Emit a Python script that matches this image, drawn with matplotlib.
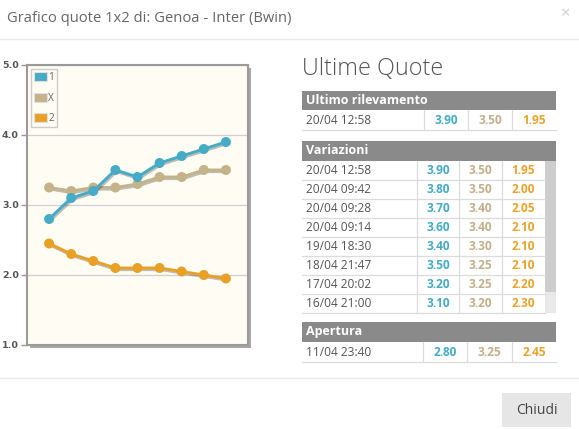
import matplotlib
matplotlib.use("Agg")
import matplotlib.pyplot as plt
import matplotlib.patheffects as pe
from matplotlib.patches import Rectangle, Patch

plt.rcParams['font.family'] = ['Open Sans', 'DejaVu Sans']

# Odds history for Genoa - Inter (Bwin), oldest first
times = ["11/04 23:40", "16/04 21:00", "17/04 20:02", "18/04 21:47", "19/04 18:30",
         "20/04 09:14", "20/04 09:28", "20/04 09:42", "20/04 12:58"]
q1 = [2.80, 3.10, 3.20, 3.50, 3.40, 3.60, 3.70, 3.80, 3.90]
qx = [3.25, 3.20, 3.25, 3.25, 3.30, 3.40, 3.40, 3.50, 3.50]
q2 = [2.45, 2.30, 2.20, 2.10, 2.10, 2.10, 2.05, 2.00, 1.95]
series_labels = ["1", "X", "2"]
y_ticks = [1.0, 2.0, 3.0, 4.0, 5.0]

title = "Grafico quote 1x2 di: Genoa - Inter (Bwin)"
panel_title = "Ultime Quote"
sec_last, sec_changes, sec_open = "Ultimo rilevamento", "Variazioni", "Apertura"
button_label = "Chiudi"

C1, CX, C2 = "#45abc6", "#c4b389", "#e8a126"
T1, TX, T2 = "#45abc6", "#c2b08a", "#e9a32c"

W, H = 579, 429
fig = plt.figure(figsize=(W / 100, H / 100), dpi=100)
fig.patch.set_facecolor("white")

# overlay axes in pixel units for the dialog chrome and the table
ov = fig.add_axes([0, 0, 1, 1])
ov.set_xlim(0, W)
ov.set_ylim(H, 0)
ov.axis("off")

ov.text(7, 18, title, fontsize=10.6, color="#666666", va="center", ha="left")
ov.text(566, 14, "\u00d7", fontsize=12, color="#d0d0d0", va="center", ha="center")
ov.plot([0, W], [39, 39], color="#e8e8e8", lw=1)
ov.plot([0, W], [378, 378], color="#e8e8e8", lw=1)

ov.add_patch(Rectangle((502, 393), 69, 34, facecolor="#e6e6e6", edgecolor="none"))
ov.text(536.5, 410, button_label, fontsize=10, color="#444444", va="center", ha="center")

ov.text(302, 69, panel_title, fontsize=16.8, color="#555555", va="center", ha="left",
        fontweight="light")

HDR = "#8a8a8a"
LINE = "#dcdcdc"
TXT = "#555555"


def header(y0, y1, label):
    ov.add_patch(Rectangle((302, y0), 254, y1 - y0, facecolor=HDR, edgecolor="none"))
    ov.text(306, (y0 + y1) / 2, label, fontsize=9.0, color="white", fontweight="bold",
            va="center", ha="left")


def row(y0, y1, date, vals, cols, right):
    yc = (y0 + y1) / 2
    ov.text(306, yc, date, fontsize=8.6, color=TXT, va="center", ha="left")
    for v, c, (a, b) in zip(vals, (T1, TX, T2), zip(cols, cols[1:] + [right])):
        ov.text((a + b) / 2, yc, f"{v:.2f}", fontsize=8.6, color=c, fontweight="bold",
                va="center", ha="center")
    for a in cols:
        ov.plot([a, a], [y0, y1], color=LINE, lw=0.9)
    ov.plot([302, right], [y1, y1], color=LINE, lw=0.9)


# last reading
header(91, 110, sec_last)
row(110, 130, times[-1], (q1[-1], qx[-1], q2[-1]), [424, 468, 512], 556)

# changes, newest first
header(141, 161, sec_changes)
rh = 19
for k, i in enumerate(range(len(times) - 1, 0, -1)):
    y0 = 161 + k * rh
    row(y0, y0 + rh, times[i], (q1[i], qx[i], q2[i]), [417, 459, 502], 545)
ov.add_patch(Rectangle((545, 161), 11, 131, facecolor="#cdcdcd", edgecolor="none"))
ov.add_patch(Rectangle((545, 292), 11, 21, facecolor="#e9e9e9", edgecolor="none"))

# opening odds
header(322, 342, sec_open)
row(342, 362, times[0], (q1[0], qx[0], q2[0]), [423, 467, 512], 556)

# chart
left, right, top, bottom = 27, 248, 65, 345
ov.add_patch(Rectangle((left + 3, top + 3), right - left, bottom - top,
                       facecolor="#a8a8a8", edgecolor="none"))
ax = fig.add_axes([left / W, 1 - bottom / H, (right - left) / W, (bottom - top) / H])
ax.set_facecolor("#fffcf3")
ax.set_xlim(-1, 9)
ax.set_ylim(1, 5)
for s in ax.spines.values():
    s.set_color("#9a9a9a")
    s.set_linewidth(1.5)
ax.set_xticks([])
ax.set_yticks(y_ticks)
ax.set_yticklabels([f"{t:.1f}" for t in y_ticks])
ax.tick_params(axis="y", length=4, width=1, color="#999999", labelsize=6.8,
               labelcolor="#555555", pad=2)
for lab in ax.get_yticklabels():
    lab.set_fontweight("bold")
    lab.set_family(["DejaVu Sans"])
ax.grid(axis="y", color="#cfcfcf", lw=0.9)
ax.set_axisbelow(True)

x = list(range(len(times)))
shadow = [pe.SimpleLineShadow(offset=(0.8, -1.2), shadow_color="#000000", alpha=0.25),
          pe.Normal()]
for vals, c in ((qx, CX), (q1, C1), (q2, C2)):
    ax.plot(x, vals, color=c, lw=2.1, marker="o", markersize=7.2, markeredgewidth=0,
            path_effects=shadow, zorder=3)

handles = [Patch(facecolor=c, edgecolor="#e0e0e0", lw=0.8) for c in (C1, CX, C2)]
leg = ax.legend(handles, series_labels, loc="upper left", bbox_to_anchor=(0.02, 0.985),
                fontsize=7.2, handlelength=1.25, handleheight=1.0, handletextpad=0.15,
                labelspacing=0.95, borderpad=0.3, borderaxespad=0.0, fancybox=False,
                framealpha=1, edgecolor="#cccccc", facecolor="#fffcf3")
for t in leg.get_texts():
    t.set_color("#666666")

fig.savefig("out.png", dpi=100, facecolor="white")
